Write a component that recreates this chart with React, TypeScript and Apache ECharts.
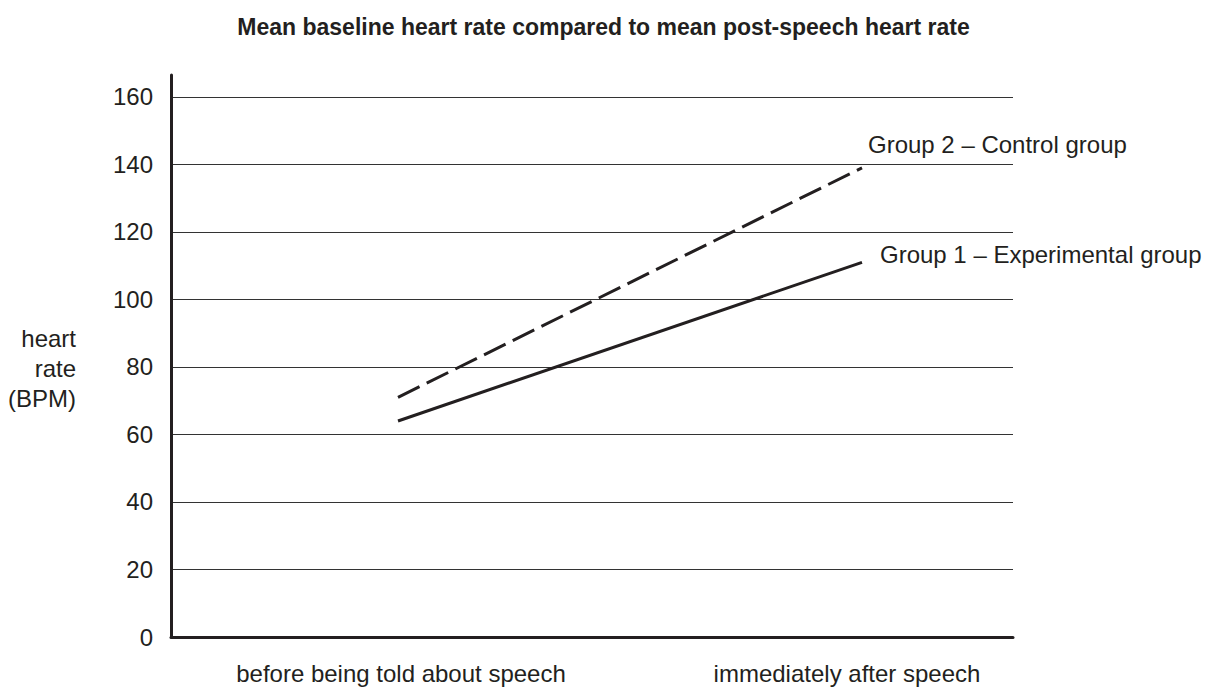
import React, { useEffect, useRef } from "react";
import * as echarts from "echarts";

const chartTitle = "Mean baseline heart rate compared to mean post-speech heart rate";
const categories = ["before being told about speech", "immediately after speech"];
const group1Name = "Group 1 – Experimental group";
const group2Name = "Group 2 – Control group";
const group1Values = [64, 111];
const group2Values = [71, 139];
const yMin = 0;
const yMax = 166.5;
const yInterval = 20;
const yTitle = "heart\nrate\n(BPM)";

const INK = "#231f20";
const FONT = "'Liberation Sans', Arial, Helvetica, sans-serif";
const FS = 24;

export default function App() {
  const ref = useRef<HTMLDivElement>(null);
  useEffect(() => {
    if (!ref.current) return;
    const chart = echarts.init(ref.current, undefined, { renderer: "svg" });
    const gridTop = 75;
    const gridBottom = 52;
    chart.setOption({
      animation: false,
      backgroundColor: "#ffffff",
      textStyle: { fontFamily: FONT },
      title: {
        text: chartTitle,
        left: "center",
        top: 15,
        padding: 0,
        textStyle: { fontFamily: FONT, fontSize: 23, fontWeight: "bold", color: INK },
      },
      grid: [
        { left: 171, right: 194, top: gridTop, bottom: gridBottom },
        { left: 398, right: 345, top: gridTop, bottom: gridBottom },
      ],
      xAxis: [
        {
          type: "value",
          gridIndex: 0,
          min: 0,
          max: 1,
          axisLine: { show: true, onZero: false, lineStyle: { color: INK, width: 3 } },
          axisTick: { show: false },
          axisLabel: { show: false },
          splitLine: { show: false },
        },
        {
          type: "category",
          gridIndex: 1,
          data: categories,
          boundaryGap: false,
          axisLine: { show: false },
          axisTick: { show: false },
          splitLine: { show: false },
          axisLabel: {
            interval: 0,
            margin: 24,
            fontSize: FS,
            color: INK,
            fontFamily: FONT,
            formatter: (v: string, i: number) => (i === 0 ? `{a|${v}}` : `{b|${v}}`),
            rich: {
              a: { fontSize: FS, color: INK, fontFamily: FONT, padding: [0, 0, 0, 6] },
              b: { fontSize: FS, color: INK, fontFamily: FONT, padding: [0, 30, 0, 0] },
            },
          },
        },
      ],
      yAxis: [
        {
          type: "value",
          gridIndex: 0,
          min: yMin,
          max: yMax,
          interval: yInterval,
          axisLine: { show: true, lineStyle: { color: INK, width: 3 } },
          axisTick: { show: false },
          axisLabel: {
            showMaxLabel: false,
            margin: 18,
            fontSize: FS,
            color: INK,
            fontFamily: FONT,
          },
          splitLine: {
            show: true,
            showMaxLine: false,
            showMinLine: false,
            lineStyle: { color: "#333333", width: 1.2 },
          },
        },
        {
          type: "value",
          gridIndex: 1,
          min: yMin,
          max: yMax,
          interval: yInterval,
          show: false,
          splitLine: { show: false },
        },
      ],
      series: [
        {
          name: group1Name,
          type: "line",
          xAxisIndex: 1,
          yAxisIndex: 1,
          data: group1Values,
          showSymbol: false,
          symbol: "none",
          lineStyle: { color: INK, width: 3, type: "solid" },
          endLabel: {
            show: true,
            formatter: "{a}",
            fontSize: FS,
            color: INK,
            fontFamily: FONT,
            distance: 0,
            offset: [18, -8],
          },
        },
        {
          name: group2Name,
          type: "line",
          xAxisIndex: 1,
          yAxisIndex: 1,
          data: group2Values,
          showSymbol: false,
          symbol: "none",
          lineStyle: { color: INK, width: 3, type: [24, 8] },
          endLabel: {
            show: true,
            formatter: "{a}",
            fontSize: FS,
            color: INK,
            fontFamily: FONT,
            distance: 0,
            offset: [6, -23],
          },
        },
      ],
      graphic: [
        {
          type: "text",
          x: 76,
          y: 368,
          style: {
            text: yTitle,
            align: "right",
            verticalAlign: "middle",
            fontSize: FS,
            lineHeight: 30,
            fill: INK,
            fontFamily: FONT,
          },
        },
      ],
    });
    return () => chart.dispose();
  }, []);
  return (
    <div
      ref={ref}
      style={{ position: "absolute", left: 0, top: 0, width: 1207, height: 689 }}
    />
  );
}
